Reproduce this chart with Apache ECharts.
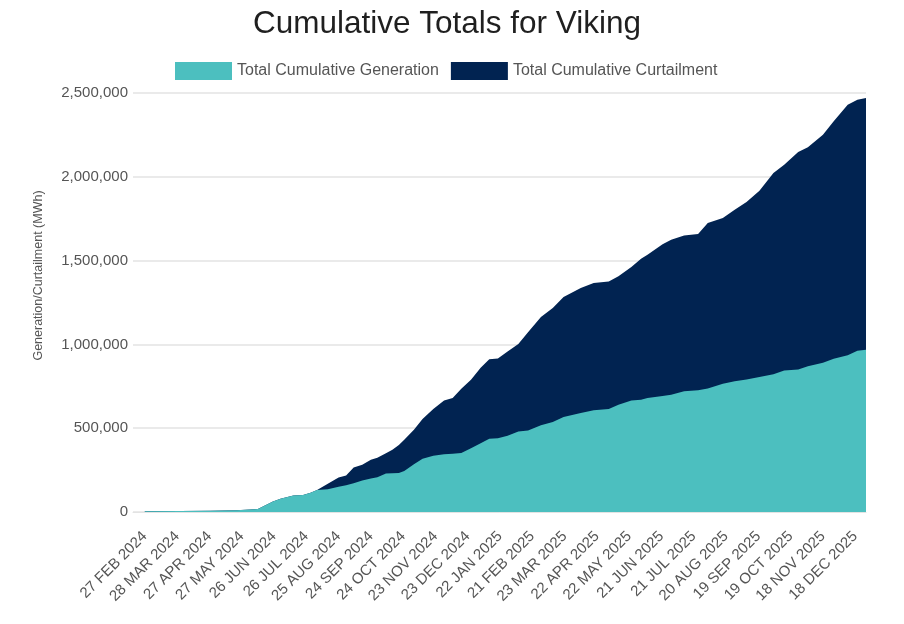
<!DOCTYPE html>
<html>
<head>
<meta charset="utf-8">
<script src="https://cdn.jsdelivr.net/npm/echarts@6/dist/echarts.min.js"></script>
<style>
  html, body { margin: 0; padding: 0; background: #ffffff; }
  #chart { width: 904px; height: 624px; }
</style>
</head>
<body>
<div id="chart"></div>
<script>
// Days since 27 FEB 2024
const dayOffsets = [0, 33, 61, 85, 98, 105, 112, 119, 126, 138, 147, 154, 160, 170, 180, 187, 194, 202, 210, 216, 224, 230, 236, 241, 250, 258, 268, 278, 286, 294, 303, 312, 320, 328, 337, 347, 356, 368, 379, 389, 405, 417, 431, 440, 452, 461, 467, 481, 489, 501, 514, 523, 537, 548, 559, 571, 584, 594, 607, 616, 630, 640, 653, 662, 670];

// Total Cumulative Generation (MWh)
const generation = [5000, 6000, 8000, 10000, 15000, 18000, 40000, 63000, 79000, 99000, 101000, 115000, 131000, 135000, 150000, 160000, 172000, 188000, 200000, 208000, 229000, 231000, 233000, 245000, 285000, 318000, 336000, 344000, 347000, 352000, 380000, 410000, 437000, 440000, 455000, 480000, 487000, 517000, 537000, 567000, 591000, 607000, 614000, 640000, 665000, 670000, 680000, 692000, 700000, 720000, 727000, 737000, 765000, 780000, 790000, 805000, 822000, 845000, 850000, 870000, 890000, 915000, 935000, 962000, 968000];

// Total Cumulative Curtailment (MWh)
const curtailment = [0, 0, 0, 0, 0, 0, 0, 0, 0, 0, 0, 0, 0, 34000, 56000, 58000, 94000, 94000, 112000, 116000, 121000, 141000, 167000, 186000, 206000, 237000, 279000, 322000, 333000, 383000, 409000, 450000, 474000, 476000, 503000, 522000, 585000, 646000, 680000, 716000, 746000, 759000, 762000, 766000, 797000, 841000, 855000, 906000, 925000, 930000, 932000, 987000, 989000, 1024000, 1060000, 1112000, 1201000, 1227000, 1298000, 1306000, 1361000, 1416000, 1495000, 1498000, 1502000];

// X tick labels, every 30 days from 27 FEB 2024
const tickLabels = ['27 FEB 2024', '28 MAR 2024', '27 APR 2024', '27 MAY 2024', '26 JUN 2024', '26 JUL 2024', '25 AUG 2024', '24 SEP 2024', '24 OCT 2024', '23 NOV 2024', '23 DEC 2024', '22 JAN 2025', '21 FEB 2025', '23 MAR 2025', '22 APR 2025', '22 MAY 2025', '21 JUN 2025', '21 JUL 2025', '20 AUG 2025', '19 SEP 2025', '19 OCT 2025', '18 NOV 2025', '18 DEC 2025'];
const tickDays = tickLabels.map((_, i) => i * 30);

const seriesNames = ['Total Cumulative Generation', 'Total Cumulative Curtailment'];
const colors = ['#4cbfbf', '#012351'];

// Curtailment is drawn stacked on top of generation (sum computed from the arrays)
const stackedTop = curtailment.map((c, i) => c + generation[i]);

const chart = echarts.init(document.getElementById('chart'), null, { renderer: 'canvas' });
const font = "'Liberation Sans', Arial, Helvetica, sans-serif";

chart.setOption({
  animation: false,
  backgroundColor: '#ffffff',
  textStyle: { fontFamily: font },
  title: {
    text: 'Cumulative Totals for Viking',
    left: 248,
    top: 3,
    textStyle: { fontSize: 31.5, fontWeight: 'normal', color: '#1f1f1f', fontFamily: font }
  },
  legend: {
    top: 57,
    left: 170,
    icon: 'rect',
    itemWidth: 57,
    itemHeight: 18,
    itemGap: 12,
    textStyle: { fontSize: 16, color: '#555555', fontFamily: font },
    data: seriesNames
  },
  grid: { left: 133, right: 38, top: 93, bottom: 112, containLabel: false },
  xAxis: {
    type: 'value',
    min: -11,
    max: 670,
    splitLine: { show: false },
    axisTick: { show: false },
    axisLine: { show: true, lineStyle: { color: '#e3e3e3', width: 1 } },
    axisLabel: {
      customValues: tickDays,
      rotate: 45,
      margin: 22,
      fontSize: 15,
      color: '#555555',
      fontFamily: font,
      formatter: function (v) { return tickLabels[Math.round(v / 30)] || ''; }
    }
  },
  yAxis: {
    type: 'value',
    min: 0,
    max: 2500000,
    interval: 500000,
    name: 'Generation/Curtailment (MWh)',
    nameLocation: 'middle',
    nameGap: 88,
    nameTextStyle: { fontSize: 12.5, color: '#555555', fontFamily: font, padding: [0, 0, 0, 54] },
    axisLine: { show: false },
    axisTick: { show: false },
    splitLine: { show: true, lineStyle: { color: '#e3e3e3', width: 1.5 } },
    axisLabel: {
      fontSize: 15,
      color: '#555555',
      margin: 5,
      fontFamily: font,
      formatter: function (v) { return v.toLocaleString('en-US'); }
    }
  },
  series: [
    {
      name: seriesNames[1],
      type: 'line',
      symbol: 'none',
      lineStyle: { width: 0 },
      itemStyle: { color: colors[1] },
      areaStyle: { color: colors[1], opacity: 1 },
      data: dayOffsets.map((d, i) => [d, stackedTop[i]])
    },
    {
      name: seriesNames[0],
      type: 'line',
      symbol: 'none',
      lineStyle: { width: 0 },
      itemStyle: { color: colors[0] },
      areaStyle: { color: colors[0], opacity: 1 },
      data: dayOffsets.map((d, i) => [d, generation[i]])
    }
  ]
});
</script>
</body>
</html>
